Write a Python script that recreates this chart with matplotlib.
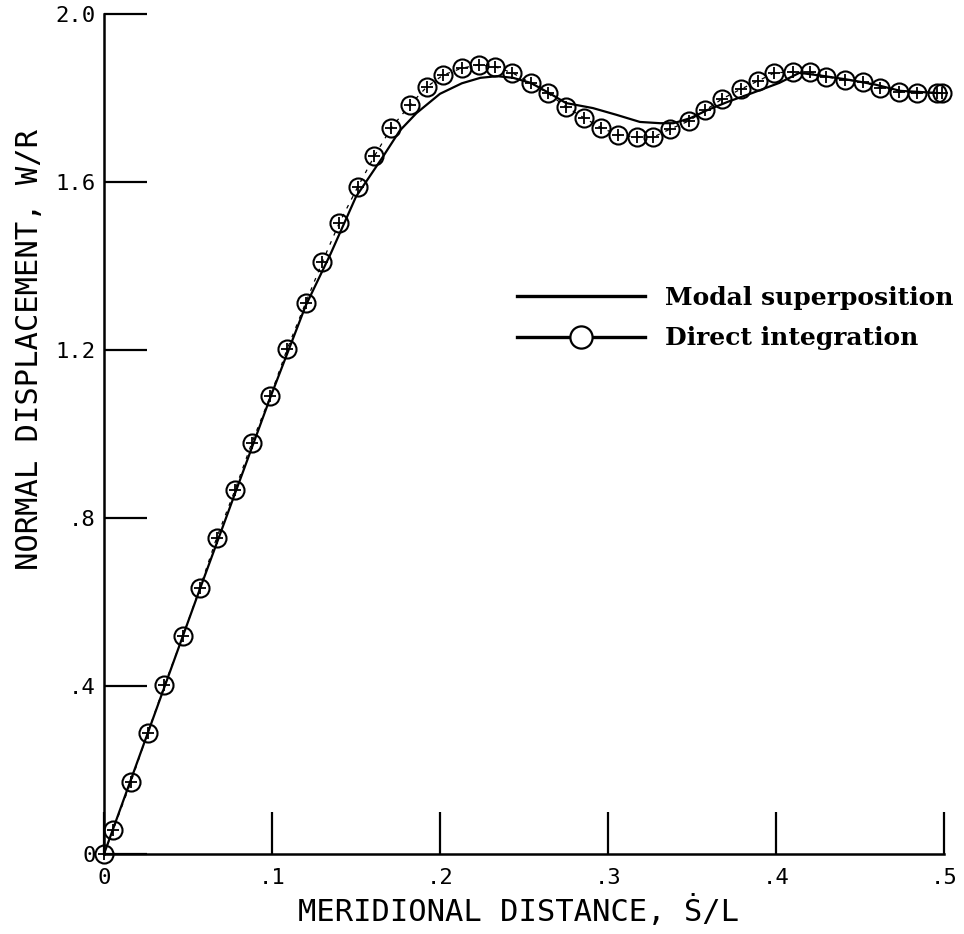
import matplotlib
matplotlib.use("Agg")
import matplotlib.pyplot as plt
from matplotlib.lines import Line2D

# ---- data ----
direct_x = [0.000, 0.0054, 0.016, 0.026, 0.036, 0.047, 0.057, 0.067, 0.078, 0.088,
            0.099, 0.109, 0.120, 0.130, 0.140, 0.151, 0.161, 0.171, 0.182, 0.192,
            0.202, 0.213, 0.223, 0.233, 0.243, 0.254, 0.264, 0.275, 0.286, 0.296,
            0.306, 0.317, 0.327, 0.337, 0.348, 0.358, 0.368, 0.379, 0.389, 0.399,
            0.410, 0.420, 0.430, 0.441, 0.452, 0.462, 0.473, 0.484, 0.496, 0.499]
direct_y = [0.000, 0.057, 0.171, 0.288, 0.402, 0.519, 0.633, 0.752, 0.867, 0.979,
            1.090, 1.202, 1.312, 1.410, 1.502, 1.588, 1.662, 1.729, 1.783, 1.826,
            1.855, 1.871, 1.879, 1.874, 1.860, 1.836, 1.812, 1.779, 1.752, 1.729,
            1.712, 1.707, 1.707, 1.726, 1.745, 1.771, 1.798, 1.821, 1.840, 1.860,
            1.862, 1.862, 1.850, 1.843, 1.838, 1.824, 1.814, 1.812, 1.812, 1.812]

modal_x = [0.000, 0.057, 0.099, 0.120, 0.135, 0.150, 0.166, 0.176, 0.186, 0.200,
           0.213, 0.224, 0.234, 0.2435, 0.254, 0.264, 0.275, 0.291, 0.305, 0.319,
           0.331, 0.339, 0.349, 0.359, 0.372, 0.386, 0.402, 0.414, 0.429, 0.444,
           0.459, 0.474, 0.496]
modal_y = [0.000, 0.630, 1.087, 1.305, 1.430, 1.565, 1.660, 1.722, 1.764, 1.810,
           1.835, 1.848, 1.852, 1.848, 1.836, 1.814, 1.788, 1.776, 1.760, 1.743,
           1.740, 1.740, 1.752, 1.771, 1.792, 1.812, 1.836, 1.860, 1.852, 1.843,
           1.832, 1.817, 1.812]

x_ticks = [0.0, 0.1, 0.2, 0.3, 0.4, 0.5]
x_tick_labels = ["0", ".1", ".2", ".3", ".4", ".5"]
y_ticks = [0.0, 0.4, 0.8, 1.2, 1.6, 2.0]
y_tick_labels = ["0", ".4", ".8", "1.2", "1.6", "2.0"]

xlabel = "MERIDIONAL DISTANCE, \u1E60/L"
ylabel = "NORMAL DISPLACEMENT, W/R"
legend_labels = ["Modal superposition", "Direct integration"]

# ---- figure ----
W, H = 964, 934
fig = plt.figure(figsize=(W / 100, H / 100), dpi=100)
ax = fig.add_axes([104 / W, 80 / H, 840 / W, 840 / H])
ax.set_xlim(0, 0.5)
ax.set_ylim(0, 2.0)

mono = "DejaVu Sans Mono"

# modal superposition line
ax.plot(modal_x, modal_y, color="black", lw=1.6, clip_on=False, zorder=3)
# direct integration: thin dashed connection, circles and plus signs
ax.plot(direct_x, direct_y, color="black", lw=0.9, ls=(0, (3, 5)), clip_on=False, zorder=2)
ax.plot(direct_x, direct_y, ls="none", marker="o", ms=13, mfc="none", mec="black",
        mew=1.5, clip_on=False, zorder=4)
ax.plot(direct_x, direct_y, ls="none", marker="+", ms=8, mec="black",
        mew=1.3, clip_on=False, zorder=4)

# spines and ticks
for s in ("top", "right"):
    ax.spines[s].set_visible(False)
for s in ("left", "bottom"):
    ax.spines[s].set_linewidth(1.8)

ax.set_xticks(x_ticks)
ax.set_xticklabels(x_tick_labels, fontfamily=mono, fontsize=16)
ax.set_yticks(y_ticks)
ax.set_yticklabels(y_tick_labels, fontfamily=mono, fontsize=16)
ax.tick_params(axis="x", direction="in", length=30, width=1.6, pad=10)
ax.tick_params(axis="y", direction="in", length=31, width=1.6, pad=6)

ax.set_xlabel(xlabel, fontfamily=mono, fontsize=22, va="center")
ax.xaxis.set_label_coords(0.494, -0.068)
ax.set_ylabel(ylabel, fontfamily=mono, fontsize=22, va="center")
ax.yaxis.set_label_coords(-0.089, 0.600)

# legend
handles = [
    Line2D([], [], color="black", lw=2.4),
    Line2D([], [], color="black", lw=2.4, marker="o", ms=16, mfc="white",
           mec="black", mew=1.6),
]
leg = ax.legend(handles, legend_labels, loc="upper left",
                bbox_to_anchor=(0.4917, 0.676), frameon=False, borderpad=0,
                borderaxespad=0, handlelength=5.12, handletextpad=0.8,
                labelspacing=0.65, numpoints=1,
                prop={"family": "DejaVu Serif", "size": 18, "weight": "bold"})

fig.savefig("out.png", dpi=100)
